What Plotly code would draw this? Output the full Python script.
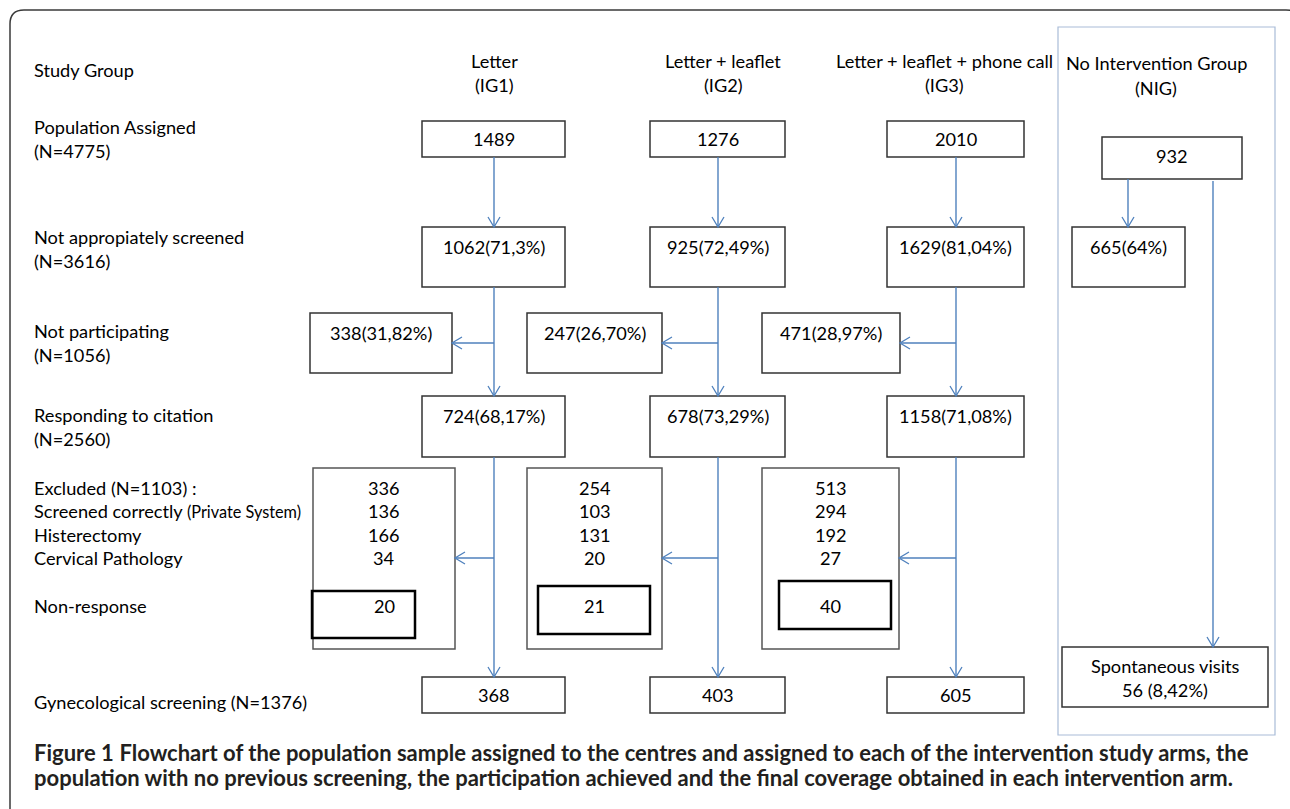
import plotly.graph_objects as go

W, H = 1290, 809
FONT = "Lato"
BLUE = "#4f81bd"
FS = 18.2

# ---------------- data ----------------
row_labels = [
    ["Study Group"],
    ["Population Assigned", "(N=4775)"],
    ["Not appropiately screened", "(N=3616)"],
    ["Not participating", "(N=1056)"],
    ["Responding to citation", "(N=2560)"],
]
excluded_labels = ["Excluded (N=1103) :",
                   "Screened correctly <span style='font-size:16.3px'>(Private System)</span>",
                   "Histerectomy", "Cervical Pathology"]
nonresp_label = "Non-response"
final_label = "Gynecological screening (N=1376)"

group_names = ["Letter", "Letter + leaflet", "Letter + leaflet + phone call"]
group_codes = ["(IG1)", "(IG2)", "(IG3)"]
nig_name = ["No Intervention Group", "(NIG)"]

assigned = ["1489", "1276", "2010"]
not_screened = ["1062(71,3%)", "925(72,49%)", "1629(81,04%)"]
not_participating = ["338(31,82%)", "247(26,70%)", "471(28,97%)"]
responding = ["724(68,17%)", "678(73,29%)", "1158(71,08%)"]
excluded = ["336", "254", "513"]
screened_private = ["136", "103", "294"]
histerectomy = ["166", "131", "192"]
cervical = ["34", "20", "27"]
non_response = ["20", "21", "40"]
gyn_screening = ["368", "403", "605"]

nig_assigned = "932"
nig_not_screened = "665(64%)"
nig_spontaneous = ["Spontaneous visits", "56 (8,42%)"]

caption_lines = [
    "<b>Figure 1</b> <b>Flowchart of the population sample assigned to the centres and assigned to each of the intervention study arms, the</b>",
    "<b>population with no previous screening, the participation achieved and the final coverage obtained in each intervention arm.</b>",
]

# ---------------- layout geometry ----------------
col_x = [494, 718, 956]
box_l = [422, 650, 887]
box_r = [565, 785, 1024]
side_l = [310, 527, 762]
side_r = [452, 662, 900]
exc_l = [313, 527, 762]
exc_r = [455, 662, 899]
nr_box = [(312, 415, 591, 638), (538, 650, 586, 634), (779, 891, 581, 629)]

shapes = []
annotations = []


def rect(x0, x1, y0, y1, color="#333333", width=1.5, fill=None):
    shapes.append(dict(type="rect", xref="x", yref="y", x0=x0, x1=x1, y0=y0, y1=y1,
                       line=dict(color=color, width=width),
                       fillcolor=fill if fill else "rgba(0,0,0,0)", layer="above"))


def line(x0, y0, x1, y1, color=BLUE, width=1.4):
    shapes.append(dict(type="line", xref="x", yref="y", x0=x0, y0=y0, x1=x1, y1=y1,
                       line=dict(color=color, width=width), layer="above"))


def vhead_down(x, y, s=6):
    shapes.append(dict(type="path", xref="x", yref="y",
                       path=f"M {x-s} {y-10} L {x} {y} L {x+s} {y-10}",
                       line=dict(color=BLUE, width=1.3), layer="above"))


def vhead_left(x, y, s=6):
    shapes.append(dict(type="path", xref="x", yref="y",
                       path=f"M {x+10} {y-s} L {x} {y} L {x+10} {y+s}",
                       line=dict(color=BLUE, width=1.3), layer="above"))


def text(x, y, t, size=FS, anchor="center", color="#000000"):
    annotations.append(dict(x=x, y=y, xref="x", yref="y", text=t, showarrow=False,
                            xanchor=anchor, yanchor="middle",
                            font=dict(family=FONT, size=size, color=color)))


# outer rounded frame
r = 14
x0, y0, x1, y1 = 10, 10, 1300, 830
shapes.append(dict(type="path", xref="x", yref="y",
                   path=(f"M {x0+r} {y0} L {x1-r} {y0} Q {x1} {y0} {x1} {y0+r} "
                         f"L {x1} {y1} L {x0} {y1} L {x0} {y0+r} Q {x0} {y0} {x0+r} {y0} Z"),
                   line=dict(color="#3a3a3a", width=1.5), fillcolor="rgba(0,0,0,0)"))

# NIG panel
rect(1058, 1275, 27, 735, color="#a9bcd8", width=1.2)

# left labels
lab_y = [[70], [127, 151], [237, 261], [331, 355], [415, 439]]
for labs, ys in zip(row_labels, lab_y):
    for t, yy in zip(labs, ys):
        text(32, yy, t, anchor="left")
for t, yy in zip(excluded_labels, [488, 511, 535, 558]):
    text(32, yy, t, anchor="left")
text(32, 606, nonresp_label, anchor="left")
text(32, 702, final_label, anchor="left")

# headers
hdr_x = [494, 723, 944]
for i in range(3):
    text(hdr_x[i], 61, group_names[i])
    text(hdr_x[i], 85, group_codes[i])
text(1156, 63, nig_name[0])
text(1156, 88, nig_name[1])

# intervention arms
for i in range(3):
    cx = (box_l[i] + box_r[i]) / 2
    rect(box_l[i], box_r[i], 121, 157)
    text(cx, 139, assigned[i])
    rect(box_l[i], box_r[i], 227, 287)
    text(cx, 247, not_screened[i])
    rect(side_l[i], side_r[i], 313, 373)
    text((side_l[i] + side_r[i]) / 2, 333, not_participating[i])
    rect(box_l[i], box_r[i], 396, 457)
    text(cx, 416, responding[i])
    rect(exc_l[i], exc_r[i], 468, 649, color="#555555", width=1.5)
    ex_cx = (exc_l[i] + exc_r[i]) / 2
    for t, yy in zip([excluded[i], screened_private[i], histerectomy[i], cervical[i]],
                     [488, 511, 535, 558]):
        text(ex_cx, yy, t)
    nl, nr, nt, nb = nr_box[i]
    rect(nl, nr, nt, nb, color="#000000", width=2.5)
    text(ex_cx, 606, non_response[i])
    rect(box_l[i], box_r[i], 677, 713)
    text(cx, 695, gyn_screening[i])

    x = col_x[i]
    line(x, 157, x, 227)
    vhead_down(x, 227)
    line(x, 287, x, 396)
    vhead_down(x, 396)
    line(x, 343, side_r[i], 343)
    vhead_left(side_r[i], 343)
    line(x, 457, x, 677)
    vhead_down(x, 677)
    line(x, 558, exc_r[i], 558)
    vhead_left(exc_r[i], 558)

# NIG arm
rect(1102, 1242, 137, 179)
text(1172, 156, nig_assigned)
rect(1072, 1185, 227, 287)
text(1128, 247, nig_not_screened)
rect(1062, 1268, 647, 707)
text(1165, 666, nig_spontaneous[0])
text(1165, 690, nig_spontaneous[1])
line(1128, 179, 1128, 227)
vhead_down(1128, 227)
line(1213, 181, 1213, 647)
vhead_down(1213, 647)

# caption
for t, yy in zip(caption_lines, [752, 777]):
    text(32, yy, t, size=22, anchor="left", color="#231f20")

fig = go.Figure()
fig.add_trace(go.Scatter(x=[0, W], y=[0, H], mode="markers", marker=dict(opacity=0),
                         hoverinfo="skip", showlegend=False))
fig.update_layout(
    width=W, height=H, margin=dict(l=0, r=0, t=0, b=0),
    paper_bgcolor="white", plot_bgcolor="white",
    xaxis=dict(range=[0, W], visible=False, fixedrange=True),
    yaxis=dict(range=[H, 0], visible=False, fixedrange=True),
    shapes=shapes, annotations=annotations, showlegend=False,
)
fig.write_html("out.html", config={"displayModeBar": False},
               post_script="document.body.style.margin='0';document.body.style.overflow='hidden';")
